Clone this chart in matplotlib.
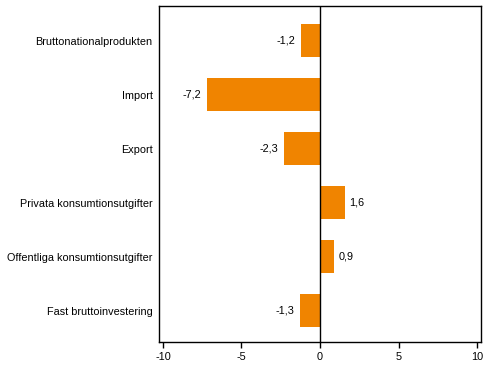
import matplotlib
matplotlib.use('Agg')
import matplotlib.pyplot as plt

categories = ['Bruttonationalprodukten', 'Import', 'Export',
              'Privata konsumtionsutgifter', 'Offentliga konsumtionsutgifter',
              'Fast bruttoinvestering']
values = [-1.2, -7.2, -2.3, 1.6, 0.9, -1.3]
xticks = [-10, -5, 0, 5, 10]

plt.rcParams['font.family'] = ['Liberation Sans', 'DejaVu Sans']
plt.rcParams['font.size'] = 7.8

fig = plt.figure(figsize=(4.91, 3.77), dpi=100)
ax = fig.add_axes([0.3238, 0.0928, 0.6558, 0.8912])

pos = list(range(len(categories)))
ax.barh(pos, values, height=0.62, color='#F08400', zorder=2)
ax.axvline(0, color='black', linewidth=1, zorder=3)

for p, v in zip(pos, values):
    txt = ('%.1f' % v).replace('.', ',')
    if v < 0:
        ax.annotate(txt, (v, p), xytext=(-4, 0), textcoords='offset points',
                    ha='right', va='center')
    else:
        ax.annotate(txt, (v, p), xytext=(3, 0), textcoords='offset points',
                    ha='left', va='center')

ax.set_xlim(-10.25, 10.25)
ax.set_ylim(5.58, -0.64)
ax.set_xticks(xticks)
ax.set_xticklabels([str(t) for t in xticks])
ax.set_yticks(pos)
ax.set_yticklabels(categories)
ax.tick_params(axis='y', length=0, pad=4.5)
ax.tick_params(axis='x', length=4, width=1, pad=3)
for s in ax.spines.values():
    s.set_linewidth(1)

fig.savefig('out.png', dpi=100)
